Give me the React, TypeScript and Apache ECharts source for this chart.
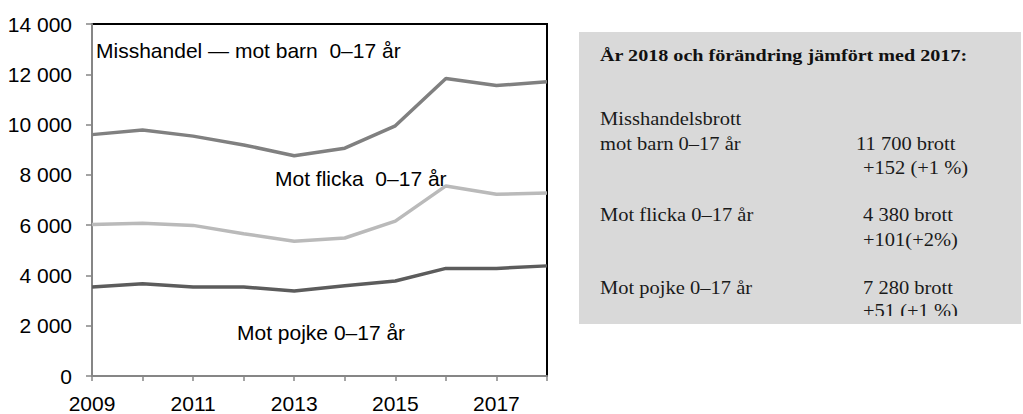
import React, { useEffect, useRef } from "react";
import * as echarts from "echarts";

const years = ["2009", "2010", "2011", "2012", "2013", "2014", "2015", "2016", "2017", "2018"];
const totalBarn = [9600, 9780, 9540, 9190, 8760, 9060, 9950, 11830, 11550, 11700];
const motFlicka = [6030, 6080, 5990, 5660, 5360, 5490, 6160, 7560, 7230, 7280];
const motPojke = [3540, 3670, 3540, 3540, 3380, 3590, 3780, 4280, 4280, 4380];

const yMin = 0;
const yMax = 14000;
const yStep = 2000;

const chartLabels = [
  { text: "Misshandel \u2014 mot barn  0\u201317 \u00e5r", x: 96, y: 50 },
  { text: "Mot flicka  0\u201317 \u00e5r", x: 275, y: 178 },
  { text: "Mot pojke 0\u201317 \u00e5r", x: 237, y: 332 },
];

const boxTitle = "\u00c5r 2018 och f\u00f6r\u00e4ndring j\u00e4mf\u00f6rt med 2017:";
const boxLeftTexts = [
  { text: "Misshandelsbrott", y: 118 },
  { text: "mot barn 0\u201317 \u00e5r", y: 143 },
  { text: "Mot flicka 0\u201317 \u00e5r", y: 214 },
  { text: "Mot pojke 0\u201317 \u00e5r", y: 287 },
];
const boxRightTexts = [
  { text: "11 700 brott", x: 856, y: 143 },
  { text: "+152 (+1 %)", x: 863, y: 167 },
  { text: "4 380 brott", x: 863, y: 214 },
  { text: "+101(+2%)", x: 863, y: 239 },
  { text: "7 280 brott", x: 863, y: 287 },
  { text: "+51 (+1 %)", x: 863, y: 310 },
];

const fmt = (v: number) => String(v).replace(/\B(?=(\d{3})+(?!\d))/g, " ");

export default function App() {
  const ref = useRef<HTMLDivElement>(null);
  useEffect(() => {
    if (!ref.current) return;
    const chart = echarts.init(ref.current, null, { renderer: "svg" });
    const sans = "Liberation Sans, Arial, sans-serif";
    const serif = "Liberation Serif, Times New Roman, serif";
    const boxFill = "#d9d9d9";

    const graphics: any[] = [];
    chartLabels.forEach((l) => {
      graphics.push({
        type: "text",
        x: l.x,
        y: l.y,
        z: 10,
        style: { text: l.text, fontFamily: sans, fontSize: 21, fill: "#000", textVerticalAlign: "middle" },
      });
    });
    graphics.push({
      type: "rect",
      shape: { x: 579, y: 32, width: 442, height: 292 },
      style: { fill: boxFill },
      z: 1,
    });
    graphics.push({
      type: "text",
      x: 600,
      y: 55,
      scaleX: 1.15,
      z: 2,
      style: { text: boxTitle, fontFamily: serif, fontSize: 17.5, fontWeight: "bold", fill: "#111", textVerticalAlign: "middle" },
    });
    boxLeftTexts.forEach((t) => {
      graphics.push({
        type: "text",
        x: 600,
        y: t.y,
        scaleX: 1.08,
        z: 2,
        style: { text: t.text, fontFamily: serif, fontSize: 19, fill: "#1a1a1a", textVerticalAlign: "middle" },
      });
    });
    boxRightTexts.forEach((t) => {
      graphics.push({
        type: "text",
        x: t.x,
        y: t.y,
        scaleX: 1.08,
        z: 2,
        style: { text: t.text, fontFamily: serif, fontSize: 19, fill: "#1a1a1a", textVerticalAlign: "middle" },
      });
    });
    graphics.push({
      type: "rect",
      shape: { x: 579, y: 316, width: 442, height: 8 },
      style: { fill: boxFill },
      z: 3,
    });

    const lineSeries = (name: string, data: number[], color: string) => ({
      name,
      type: "line",
      data,
      symbol: "none",
      lineStyle: { color, width: 3.5 },
      z: 3,
    });

    chart.setOption({
      animation: false,
      backgroundColor: "#fff",
      grid: {
        left: 92,
        top: 24,
        width: 455,
        height: 357.5,
        show: true,
        borderColor: "#000",
        borderWidth: 2,
        backgroundColor: "transparent",
      },
      xAxis: {
        type: "category",
        data: years,
        boundaryGap: false,
        axisLine: { lineStyle: { color: "#868686", width: 2 } },
        axisTick: { show: true, interval: 0, length: 5, lineStyle: { color: "#868686", width: 1.5 } },
        axisLabel: { interval: 1, fontFamily: sans, fontSize: 21, color: "#000", margin: 17 },
        splitLine: { show: false },
      },
      yAxis: {
        type: "value",
        min: yMin,
        max: yMax,
        interval: yStep,
        axisLine: { show: true, lineStyle: { color: "#868686", width: 2 } },
        axisTick: { show: true, length: 6, lineStyle: { color: "#868686", width: 1.5 } },
        axisLabel: { fontFamily: sans, fontSize: 21, color: "#000", margin: 20, formatter: (v: number) => fmt(v) },
        splitLine: { show: false },
      },
      series: [
        lineSeries("Misshandel \u2014 mot barn 0\u201317 \u00e5r", totalBarn, "#808080"),
        lineSeries("Mot flicka 0\u201317 \u00e5r", motFlicka, "#bababa"),
        lineSeries("Mot pojke 0\u201317 \u00e5r", motPojke, "#5c5c5c"),
      ],
      graphic: graphics,
    });
    return () => chart.dispose();
  }, []);
  return (
    <div
      ref={ref}
      style={{ position: "absolute", left: 0, top: 0, width: 1023, height: 414, background: "#fff" }}
    />
  );
}
